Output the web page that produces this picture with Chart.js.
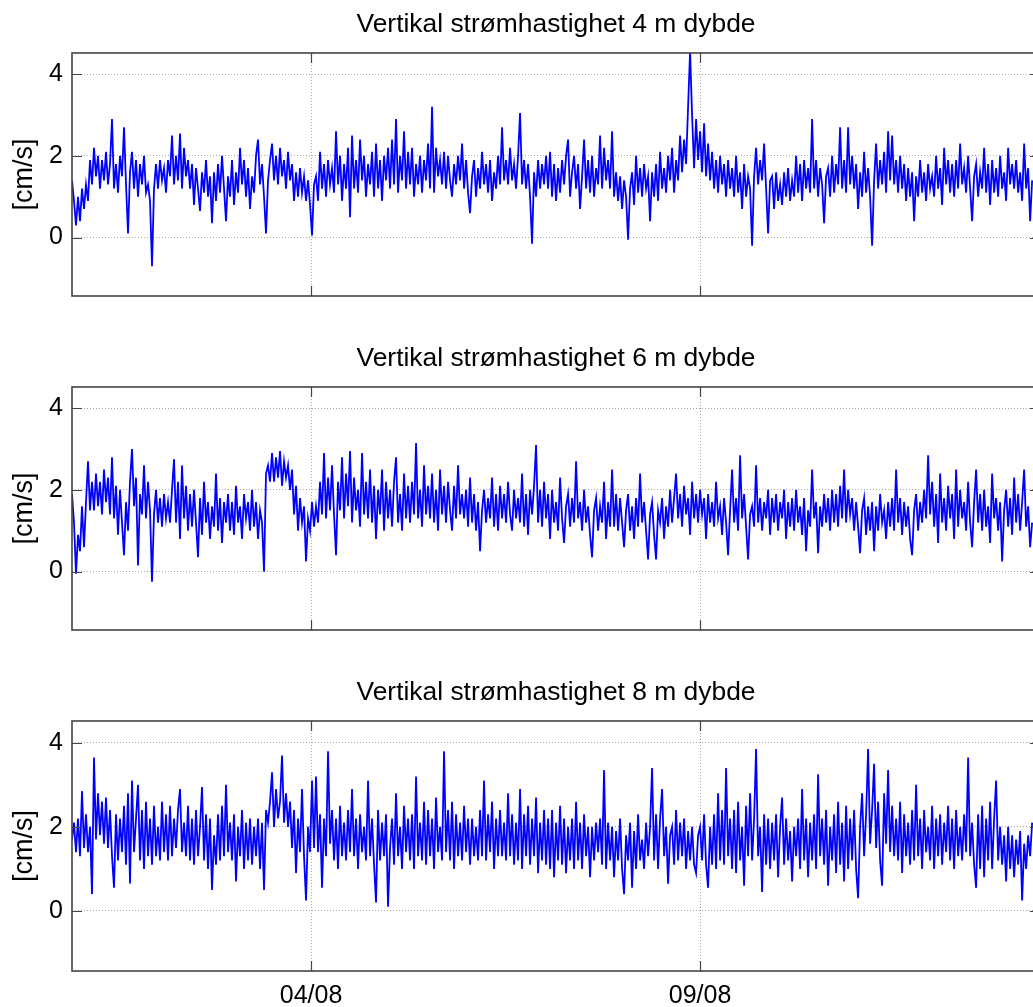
<!DOCTYPE html>
<html>
<head>
<meta charset="utf-8">
<title>Vertikal strømhastighet</title>
<script src="https://cdn.jsdelivr.net/npm/chart.js@4.4.1/dist/chart.umd.min.js"></script>
<style>
  html, body { margin: 0; padding: 0; background: #fff; overflow: hidden; }
  #wrap { position: relative; width: 1033px; height: 1007px; overflow: hidden; }
  .panel { position: absolute; left: 0; width: 1060px; }
  canvas { display: block; }
</style>
</head>
<body>
<div id="wrap">
  <div class="panel" style="top:0px"><canvas id="c4" width="1060" height="320"></canvas></div>
  <div class="panel" style="top:334px"><canvas id="c6" width="1060" height="320"></canvas></div>
  <div class="panel" style="top:668px"><canvas id="c8" width="1060" height="339"></canvas></div>
</div>
<script>
// Sampling: first sample 31/07 ~22:16, then one sample every ~37 min (day-of-August units)
const sampleStartDay = 0.928;
const sampleStepDay = 0.02571;

// Axis extents and ticks
const dayMin = 0.928;
const dayMax = 13.37;
const dayTicks = [4, 9];
const dayTickLabels = ['04/08', '09/08'];
const velMin = -1.43;
const velMax = 4.52;
const velTicks = [0, 2, 4];

const panelTitles = [
  'Vertikal strømhastighet 4 m dybde',
  'Vertikal strømhastighet 6 m dybde',
  'Vertikal strømhastighet 8 m dybde'
];
const unitLabel = '[cm/s]';

// Vertical current speed [cm/s], 4 m depth
const vel4m = [
  1.4, 0.9, 0.3, 1.0, 0.4, 1.2, 0.7, 1.3, 0.9, 1.9,
  1.3, 2.2, 1.5, 2.0, 1.2, 1.9, 1.4, 2.1, 1.3, 1.8,
  2.9, 1.2, 1.8, 1.1, 2.0, 1.5, 2.7, 1.3, 0.1, 1.6,
  2.1, 1.2, 1.9, 1.0, 1.8, 1.3, 2.0, 1.1, 1.3, 0.9,
  -0.7, 1.2, 1.8, 1.2, 1.9, 1.4, 1.7, 1.1, 1.9, 1.5,
  2.5, 1.3, 2.0, 1.4, 2.55, 1.2, 2.2, 1.5, 1.9, 1.2,
  1.8, 0.8, 1.7, 1.2, 0.65, 1.6, 1.1, 1.9, 1.0, 1.5,
  0.35, 1.6, 0.9, 1.8, 1.1, 2.0, 1.2, 0.4, 1.5, 1.0,
  1.9, 0.8, 1.6, 1.1, 2.2, 1.3, 1.9, 1.0, 1.7, 0.7,
  1.5, 1.1, 2.0, 2.4, 1.3, 1.8, 1.0, 0.1, 1.4, 1.9,
  2.3, 1.4, 2.0, 1.3, 2.2, 1.5, 1.9, 1.2, 2.1, 1.4,
  1.8, 0.9, 1.6, 1.0, 1.7, 1.1, 1.5, 0.9, 1.4, 0.8,
  0.05, 1.3, 1.5, 0.9, 2.1, 1.2, 1.8, 1.0, 1.9, 1.3,
  1.7, 1.1, 2.6, 1.3, 2.0, 0.9, 1.8, 1.2, 2.2, 0.5,
  2.5, 1.2, 1.9, 1.1, 2.4, 1.4, 2.0, 1.0, 1.8, 1.3,
  2.1, 1.0, 2.3, 1.2, 1.9, 0.9, 2.0, 1.4, 2.2, 1.2,
  2.4, 1.3, 2.9, 1.1, 2.0, 1.4, 2.6, 1.2, 2.1, 1.3,
  2.2, 1.0, 1.8, 1.3, 2.0, 1.1, 1.9, 1.4, 2.3, 1.2,
  3.2, 1.1, 2.2, 1.5, 1.9, 1.3, 2.1, 1.2, 2.0, 1.4,
  1.0, 1.8, 1.3, 2.0, 1.4, 2.3, 1.2, 1.9, 1.1, 0.6,
  1.5, 1.9, 1.0, 1.7, 1.2, 2.1, 1.3, 1.8, 1.1, 1.9,
  0.9, 1.6, 1.2, 2.0, 1.3, 2.7, 1.4, 1.9, 1.3, 2.2,
  1.4, 1.8, 1.2, 2.0, 3.05, 1.3, 1.9, 1.2, 1.8, 1.0,
  -0.15, 1.6, 1.0, 1.9, 1.2, 1.8, 1.3, 2.0, 1.2, 2.1,
  1.0, 1.8, 0.9, 1.7, 1.1, 1.9, 1.3, 2.0, 2.4, 1.0,
  1.6, 2.0, 1.2, 1.8, 0.7, 1.5, 2.4, 1.2, 1.9, 1.1,
  2.0, 1.0, 1.7, 1.3, 2.5, 1.2, 2.2, 1.4, 1.9, 1.2,
  2.6, 1.0, 1.6, 0.9, 1.5, 0.7, 1.4, 1.0, -0.05, 1.2,
  1.6, 0.8, 2.0, 1.1, 1.7, 1.0, 1.8, 1.2, 1.5, 0.4,
  1.6, 1.0, 1.8, 0.9, 2.1, 1.2, 1.7, 1.1, 2.0, 1.4,
  2.2, 1.1, 1.9, 1.4, 2.5, 1.6, 2.4, 1.8, 3.2, 4.55,
  3.0, 1.7, 2.9, 1.9, 2.6, 1.6, 2.8, 1.5, 2.3, 1.4,
  2.1, 1.2, 1.9, 1.1, 2.0, 1.3, 1.8, 1.0, 1.9, 1.2,
  1.7, 1.0, 2.0, 1.1, 1.6, 0.7, 1.8, 1.0, 1.5, 1.2,
  -0.2, 1.5, 2.2, 1.3, 1.9, 1.4, 2.3, 1.2, 0.1, 1.4,
  1.5, 0.7, 1.6, 0.9, 1.3, 0.8, 1.6, 1.0, 1.7, 0.9,
  1.4, 1.0, 2.0, 1.1, 1.8, 0.9, 1.9, 1.2, 1.7, 1.1,
  2.9, 1.2, 1.9, 1.0, 1.7, 1.3, 0.35, 1.5, 1.7, 1.0,
  2.0, 1.1, 1.8, 1.3, 2.7, 1.2, 1.9, 1.1, 2.7, 1.3,
  2.0, 1.2, 1.8, 0.7, 1.6, 1.0, 2.1, 1.1, 1.7, 1.0,
  -0.2, 1.4, 2.3, 1.2, 1.9, 1.3, 2.1, 1.1, 2.6, 1.4,
  2.5, 1.3, 1.9, 1.1, 2.0, 1.2, 1.8, 0.9, 1.7, 1.0,
  1.6, 0.4, 1.5, 1.0, 1.9, 1.1, 1.6, 0.9, 1.8, 1.2,
  1.5, 1.0, 2.0, 1.2, 1.7, 0.8, 2.2, 1.3, 1.9, 1.1,
  1.8, 1.0, 1.9, 1.2, 2.3, 1.3, 1.7, 1.1, 2.0, 1.2,
  0.4, 1.5, 1.8, 1.0, 1.6, 1.2, 2.2, 1.1, 1.8, 0.8,
  1.9, 1.1, 1.7, 1.0, 2.0, 1.2, 1.6, 0.9, 2.2, 1.3,
  1.8, 1.2, 1.9, 1.1, 1.6, 0.9, 2.3, 1.2, 1.7, 0.4,
  1.4
];

// Vertical current speed [cm/s], 6 m depth
const vel6m = [
  1.9, 1.2, -0.05, 0.9, 0.5, 1.6, 0.6, 1.7, 2.7, 1.5,
  2.2, 1.5, 2.4, 1.6, 2.2, 1.4, 2.5, 1.7, 2.3, 1.4,
  2.8, 1.3, 2.1, 0.9, 2.0, 1.2, 0.4, 1.7, 1.0, 2.2,
  3.0, 1.6, 2.3, 0.15, 1.9, 1.4, 2.6, 1.3, 2.2, 1.5,
  -0.25, 1.4, 2.0, 1.2, 1.8, 1.1, 1.9, 1.3, 1.7, 1.2,
  2.0, 2.75, 1.2, 2.2, 0.8, 2.6, 1.3, 2.1, 1.0, 1.9,
  1.1, 2.0, 1.2, 0.35, 1.8, 0.9, 2.2, 1.2, 1.7, 0.8,
  1.6, 1.1, 2.4, 1.0, 1.8, 0.7, 1.7, 1.2, 1.9, 1.0,
  1.7, 0.9, 2.1, 1.2, 1.6, 0.8, 1.9, 1.3, 1.7, 1.0,
  2.0, 1.1, 1.7, 0.8, 1.5, 1.2, 0.0, 2.4, 2.6, 2.2,
  2.9, 2.2, 2.8, 2.3, 2.95, 2.1, 2.7, 2.3, 2.6, 2.0,
  2.5, 1.4, 2.1, 1.0, 1.8, 1.2, 1.6, 0.25, 1.3, 1.0,
  1.7, 1.1, 1.6, 1.2, 2.2, 1.4, 2.9, 1.3, 2.3, 1.5,
  2.6, 1.4, 0.4, 2.2, 1.5, 2.8, 1.3, 2.4, 1.6, 2.95,
  1.2, 2.3, 1.5, 2.0, 1.1, 2.9, 1.4, 2.2, 1.3, 2.5,
  1.2, 2.1, 0.8, 2.0, 1.4, 2.5, 1.0, 2.2, 1.3, 2.0,
  1.1, 2.2, 2.8, 1.2, 1.9, 1.0, 2.4, 1.3, 2.1, 1.2,
  2.2, 1.4, 3.15, 1.3, 2.0, 1.1, 2.6, 1.4, 2.1, 1.3,
  2.4, 1.2, 2.0, 1.0, 2.5, 1.4, 2.1, 1.2, 2.2, 1.5,
  1.0, 2.1, 1.3, 2.6, 1.4, 1.9, 1.3, 2.0, 1.1, 2.3,
  1.2, 1.9, 1.0, 1.7, 0.5, 1.5, 2.0, 1.2, 1.8, 1.3,
  2.3, 1.1, 1.9, 1.0, 2.1, 1.3, 1.9, 1.2, 2.2, 1.4,
  1.0, 2.0, 1.3, 1.8, 1.2, 2.4, 1.1, 1.9, 0.9, 2.0,
  1.4, 2.1, 3.1, 1.2, 2.0, 1.1, 2.2, 1.3, 1.9, 0.8,
  2.0, 1.2, 1.7, 1.0, 2.3, 1.3, 0.7, 1.6, 1.9, 1.1,
  1.8, 1.2, 2.7, 1.3, 1.7, 1.0, 2.0, 1.2, 1.6, 0.9,
  0.35, 1.5, 1.8, 1.0, 1.6, 1.2, 2.2, 0.8, 1.7, 1.1,
  2.5, 1.1, 1.9, 1.0, 1.8, 1.2, 0.6, 1.5, 1.9, 1.0,
  1.6, 0.8, 1.8, 1.1, 2.4, 1.2, 1.7, 1.0, 0.3, 1.4,
  1.7, 0.9, 0.3, 1.5, 1.2, 1.8, 0.8, 1.6, 1.1, 2.0,
  1.2, 1.8, 2.4, 1.3, 1.9, 1.1, 2.1, 1.4, 1.8, 0.9,
  2.2, 1.3, 1.9, 1.2, 2.0, 1.4, 1.8, 0.8, 1.9, 1.2,
  1.7, 1.1, 2.2, 1.3, 1.6, 0.9, 1.8, 1.2, 0.4, 1.5,
  2.5, 1.2, 1.8, 1.0, 2.85, 1.3, 1.9, 1.1, 0.3, 1.4,
  1.6, 1.1, 2.6, 1.2, 1.8, 1.0, 1.7, 1.3, 2.0, 0.9,
  1.8, 1.2, 1.9, 1.0, 1.7, 1.3, 2.0, 0.8, 1.7, 1.1,
  1.8, 1.0, 2.0, 1.2, 1.6, 0.9, 1.8, 0.5, 1.5, 1.1,
  2.5, 1.3, 1.7, 0.45, 1.6, 1.1, 1.9, 1.2, 1.8, 1.0,
  2.0, 1.2, 1.9, 1.1, 2.1, 1.3, 2.5, 1.2, 2.0, 1.4,
  1.8, 1.0, 1.7, 1.1, 0.45, 1.5, 1.8, 0.9, 1.6, 1.0,
  1.7, 0.5, 1.6, 1.0, 1.9, 1.2, 1.5, 0.8, 1.7, 1.1,
  1.8, 1.0, 2.5, 1.2, 1.8, 0.9, 1.7, 1.1, 1.6, 0.8,
  0.4, 1.5, 1.9, 1.0, 1.7, 1.2, 2.0, 1.3, 2.85, 1.4,
  2.2, 1.1, 1.9, 0.7, 2.4, 1.2, 1.8, 1.0, 2.1, 1.3,
  1.9, 0.8, 2.5, 1.1, 2.0, 1.3, 1.7, 1.0, 2.2, 1.2,
  0.6, 1.7, 2.5, 1.2, 1.9, 1.0, 2.0, 1.1, 1.6, 0.7,
  2.4, 1.3, 1.8, 1.0, 1.7, 0.25, 1.5, 2.0, 1.1, 1.8,
  0.9, 2.3, 1.2, 1.9, 1.0, 1.7, 2.5, 1.1, 1.6, 0.6,
  1.2
];

// Vertical current speed [cm/s], 8 m depth
const vel8m = [
  1.7, 2.1, 1.4, 2.2, 1.3, 2.85, 1.5, 2.3, 1.4, 2.0,
  0.4, 3.65, 1.7, 2.8, 1.8, 2.6, 1.6, 2.7, 1.5, 2.4,
  1.3, 0.55, 2.3, 1.2, 2.2, 1.4, 2.5, 1.1, 2.8, 0.65,
  3.1, 1.4, 2.2, 3.0, 1.2, 2.4, 1.0, 2.6, 1.3, 2.2,
  1.1, 2.5, 1.3, 2.0, 1.2, 2.6, 1.4, 2.3, 1.2, 2.5,
  1.3, 2.2, 1.5, 2.4, 2.9, 1.4, 2.1, 1.3, 2.5, 1.2,
  2.2, 1.1, 2.4, 1.3, 2.0, 2.95, 1.2, 2.3, 1.0, 2.2,
  0.5, 1.8, 1.1, 2.3, 1.2, 2.5, 1.3, 3.0, 1.4, 2.1,
  1.2, 2.3, 0.7, 2.0, 1.3, 2.4, 1.0, 2.1, 1.2, 2.2,
  1.1, 2.0, 1.3, 2.2, 1.0, 2.1, 0.5, 2.4, 2.1, 2.6,
  3.3, 2.0, 2.9, 2.2, 2.6, 3.7, 2.1, 2.8, 2.0, 2.6,
  1.5, 2.4, 0.9, 2.2, 1.4, 2.9, 1.3, 0.25, 2.0, 1.4,
  3.1, 1.5, 3.2, 1.4, 2.3, 0.55, 2.2, 1.3, 3.8, 1.6,
  2.4, 1.2, 2.2, 1.0, 2.5, 1.3, 2.1, 1.2, 2.4, 1.4,
  2.9, 1.3, 2.2, 1.0, 2.3, 1.4, 2.0, 1.2, 3.1, 1.3,
  2.2, 1.1, 0.2, 2.4, 1.2, 2.1, 1.3, 2.3, 0.1, 1.5,
  2.2, 1.1, 2.8, 1.3, 2.0, 1.0, 2.5, 1.4, 2.2, 1.2,
  2.3, 1.0, 3.2, 1.3, 2.1, 1.2, 2.6, 1.1, 2.4, 1.3,
  2.2, 1.0, 2.7, 1.4, 2.0, 1.2, 3.8, 1.4, 2.4, 1.2,
  2.6, 1.0, 2.3, 1.3, 2.1, 1.2, 2.5, 1.4, 2.2, 1.1,
  2.2, 1.3, 2.0, 1.2, 2.4, 1.3, 3.1, 1.2, 2.3, 1.4,
  2.6, 1.0, 2.2, 1.3, 2.4, 1.3, 2.1, 1.2, 2.8, 1.3,
  2.3, 1.1, 2.1, 1.2, 2.9, 1.0, 2.3, 1.3, 2.5, 1.1,
  2.2, 1.3, 2.7, 0.9, 2.1, 1.2, 2.4, 1.1, 2.2, 1.0,
  2.4, 0.8, 2.1, 1.2, 2.5, 1.1, 2.2, 0.9, 2.0, 1.2,
  2.2, 1.0, 2.6, 1.2, 2.1, 1.0, 2.3, 1.3, 2.0, 0.8,
  2.0, 1.2, 2.1, 1.4, 2.2, 1.1, 3.35, 1.0, 2.1, 1.2,
  2.0, 0.8, 1.9, 1.2, 2.2, 1.0, 0.4, 1.8, 1.2, 2.1,
  0.55, 1.9, 1.0, 2.3, 1.2, 1.7, 1.0, 2.1, 1.3, 2.0,
  3.4, 1.2, 2.3, 1.0, 2.2, 2.9, 1.3, 2.0, 0.65, 1.8,
  2.0, 1.1, 2.4, 1.2, 2.1, 1.3, 2.2, 1.0, 1.9, 1.2,
  2.0, 1.1, 0.9, 1.8, 2.0, 1.2, 2.3, 1.1, 0.55, 2.0,
  1.1, 2.3, 1.0, 2.8, 1.2, 2.4, 1.1, 3.4, 1.3, 2.2,
  1.0, 2.4, 0.9, 2.6, 1.2, 2.0, 0.6, 2.5, 1.3, 2.8,
  1.2, 2.2, 3.85, 1.3, 2.0, 0.45, 2.3, 1.1, 2.2, 1.0,
  2.1, 1.2, 2.3, 0.8, 2.0, 2.7, 1.1, 2.2, 1.2, 1.9,
  0.7, 2.0, 1.3, 2.2, 1.0, 2.9, 1.2, 2.2, 0.8, 2.1,
  1.2, 2.3, 1.0, 3.25, 1.3, 2.2, 1.1, 2.4, 0.6, 2.0,
  1.2, 2.3, 0.9, 2.6, 1.1, 2.1, 0.7, 2.5, 1.0, 2.2,
  1.2, 2.4, 1.0, 0.3, 2.0, 2.8, 1.3, 2.3, 3.85, 1.6,
  2.4, 3.5, 1.5, 2.6, 1.2, 0.6, 2.8, 1.6, 3.35, 1.4,
  2.5, 1.3, 2.2, 1.2, 2.6, 0.9, 2.3, 1.3, 2.1, 1.1,
  2.4, 1.2, 3.0, 1.3, 2.2, 1.0, 2.4, 1.4, 2.0, 1.2,
  2.5, 1.0, 2.2, 1.3, 2.3, 1.1, 2.1, 1.4, 2.5, 1.2,
  2.2, 1.0, 2.4, 1.3, 2.0, 1.2, 2.3, 1.4, 3.65, 1.3,
  2.1, 1.1, 0.55, 2.3, 1.0, 2.5, 0.8, 2.2, 1.2, 2.6,
  1.0, 2.2, 3.1, 1.2, 2.0, 1.1, 1.8, 0.7, 2.0, 1.0,
  1.8, 0.8, 1.7, 1.1, 1.9, 0.25, 1.6, 1.0, 1.8, 1.3,
  2.1
];

const FONT = "'Liberation Sans', Arial, Helvetica, sans-serif";
const LINE_BLUE = '#0000ff';
const FRAME = '#444444';
const GRID = '#a8a8a8';

function toPoints(values) {
  return values.map((v, i) => ({ x: sampleStartDay + i * sampleStepDay, y: v }));
}

// Box around the plot area plus inward tick marks on all four sides
const framePlugin = {
  id: 'frame',
  afterDraw(chart) {
    const { ctx, chartArea: a, scales } = chart;
    const xs = scales.x, ys = scales.y;
    const tl = 10;
    ctx.save();
    ctx.strokeStyle = FRAME;
    ctx.lineWidth = 1.6;
    ctx.strokeRect(a.left, a.top, a.right - a.left, a.bottom - a.top);
    ctx.beginPath();
    dayTicks.forEach(d => {
      const px = Math.round(xs.getPixelForValue(d)) + 0.5;
      ctx.moveTo(px, a.top); ctx.lineTo(px, a.top + tl);
      ctx.moveTo(px, a.bottom); ctx.lineTo(px, a.bottom - tl);
    });
    velTicks.forEach(v => {
      const py = Math.round(ys.getPixelForValue(v)) + 0.5;
      ctx.moveTo(a.left, py); ctx.lineTo(a.left + tl, py);
      ctx.moveTo(a.right, py); ctx.lineTo(a.right - tl, py);
    });
    ctx.lineWidth = 1.2;
    ctx.stroke();
    ctx.restore();
  }
};

function makePanel(canvasId, title, values, showDates) {
  const canvas = document.getElementById(canvasId);
  const xHeight = showDates ? 36 : 0;
  new Chart(canvas, {
    type: 'line',
    data: {
      datasets: [{
        data: toPoints(values),
        borderColor: LINE_BLUE,
        borderWidth: 1.8,
        pointRadius: 0,
        tension: 0,
        fill: false
      }]
    },
    options: {
      responsive: false,
      animation: false,
      parsing: false,
      normalized: true,
      layout: { padding: { left: 0, right: 20, top: 0, bottom: showDates ? 0 : 17 } },
      plugins: {
        legend: { display: false },
        tooltip: { enabled: false },
        title: {
          display: true,
          text: title,
          fullSize: false,
          color: '#000',
          font: { family: FONT, size: 26.4, weight: 'normal' },
          padding: { top: 9, bottom: 12.3 }
        }
      },
      scales: {
        x: {
          type: 'linear',
          min: dayMin,
          max: dayMax,
          afterBuildTicks: s => { s.ticks = dayTicks.map(v => ({ value: v })); },
          afterFit: s => { s.height = xHeight; },
          grid: { display: true, color: GRID, lineWidth: 1, drawTicks: false },
          border: { display: false, dash: [1, 2] },
          ticks: {
            display: showDates,
            padding: 10,
            color: '#000',
            font: { family: FONT, size: 25 },
            maxRotation: 0,
            callback: v => dayTickLabels[dayTicks.indexOf(v)]
          }
        },
        y: {
          type: 'linear',
          min: velMin,
          max: velMax,
          afterBuildTicks: s => { s.ticks = velTicks.map(v => ({ value: v })); },
          afterFit: s => { s.width = 72; },
          grid: { display: true, color: GRID, lineWidth: 1, drawTicks: false },
          border: { display: false, dash: [1, 2] },
          ticks: {
            padding: 9,
            color: '#000',
            font: { family: FONT, size: 25 },
            callback: v => String(v)
          },
          title: {
            display: true,
            text: unitLabel,
            color: '#000',
            font: { family: FONT, size: 27 },
            padding: { top: 8.8, bottom: 0 }
          }
        }
      }
    },
    plugins: [framePlugin]
  });
}

makePanel('c4', panelTitles[0], vel4m, false);
makePanel('c6', panelTitles[1], vel6m, false);
makePanel('c8', panelTitles[2], vel8m, true);
</script>
</body>
</html>
